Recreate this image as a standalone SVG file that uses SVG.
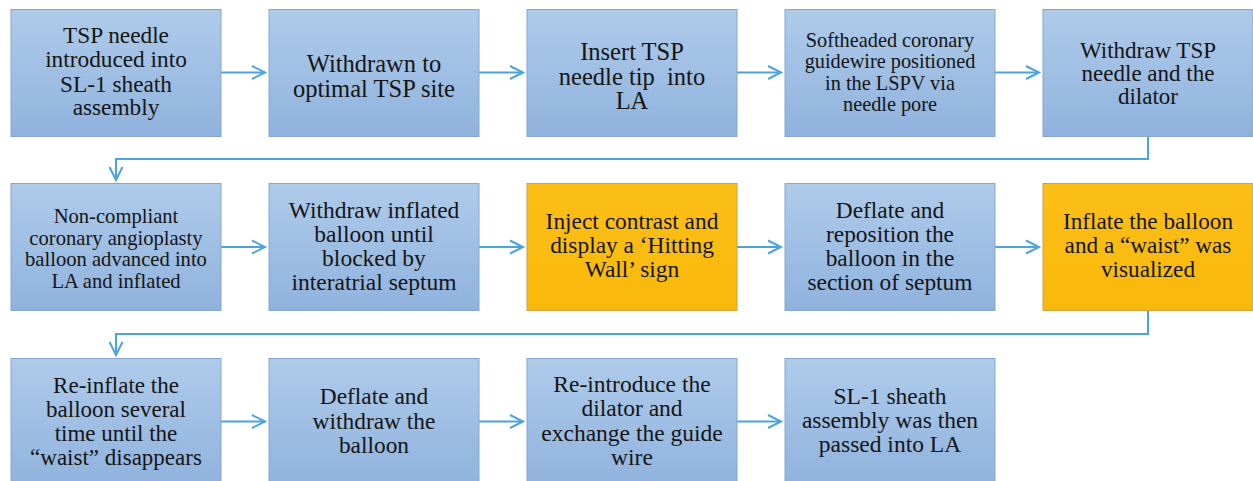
<svg xmlns="http://www.w3.org/2000/svg" width="1253" height="481" viewBox="0 0 1253 481">
<defs>
<linearGradient id="gBlue" x1="0" y1="0" x2="0" y2="1">
<stop offset="0" stop-color="#afcbea"/>
<stop offset="1" stop-color="#8fb2dd"/>
</linearGradient>
<linearGradient id="gOrange" x1="0" y1="0" x2="0" y2="1">
<stop offset="0" stop-color="#fcbf18"/>
<stop offset="1" stop-color="#f9b90a"/>
</linearGradient>
<marker id="arr" markerUnits="userSpaceOnUse" markerWidth="16" markerHeight="16" refX="13" refY="7" orient="auto" overflow="visible">
<path d="M0,0.5 L13,7 L0,13.5" fill="none" stroke="#4ea3dc" stroke-width="2"/>
</marker>
</defs>
<style>
.blue{fill:url(#gBlue);stroke:#86a6cf;stroke-width:1}
.orange{fill:url(#gOrange);stroke:#c9a24a;stroke-width:1}
text{font-family:'Liberation Serif','DejaVu Serif','Times New Roman',serif;fill:#151515;text-anchor:middle}
.conn{fill:none;stroke:#4ea3dc;stroke-width:2;marker-end:url(#arr)}
</style>
<rect width="1253" height="481" fill="#ffffff"/>
<g id="connectors">
<path class="conn" d="M221,72.5 H265"/>
<path class="conn" d="M479,72.5 H523"/>
<path class="conn" d="M737,72.5 H781"/>
<path class="conn" d="M995,72.5 H1039"/>
<path class="conn" d="M1148,136 V159 H116 V180"/>
<path class="conn" d="M221,247 H265"/>
<path class="conn" d="M479,247 H523"/>
<path class="conn" d="M737,247 H781"/>
<path class="conn" d="M995,247 H1039"/>
<path class="conn" d="M1148,310 V334 H116 V355"/>
<path class="conn" d="M221,421.5 H265"/>
<path class="conn" d="M479,421.5 H523"/>
<path class="conn" d="M737,421.5 H781"/>
</g>
<g id="n1"><rect class="blue" x="11" y="9.5" width="210" height="127"/>
<text font-family="Liberation Serif, serif" font-size="23.3"><tspan x="116" y="43">TSP needle</tspan><tspan x="116" y="67">introduced into</tspan><tspan x="116" y="91.5">SL-1 sheath</tspan><tspan x="116" y="115">assembly</tspan></text></g>
<g id="n2"><rect class="blue" x="269" y="9.5" width="210" height="127"/>
<text font-size="24.5"><tspan x="374" y="72">Withdrawn to</tspan><tspan x="374" y="97">optimal TSP site</tspan></text></g>
<g id="n3"><rect class="blue" x="527" y="9.5" width="210" height="127"/>
<text font-size="24.5" xml:space="preserve"><tspan x="632" y="60">Insert TSP</tspan><tspan x="632" y="84.5">needle tip  into</tspan><tspan x="632" y="109">LA</tspan></text></g>
<g id="n4"><rect class="blue" x="785" y="9.5" width="210" height="127"/>
<text font-size="20.3"><tspan x="890" y="47">Softheaded coronary</tspan><tspan x="890" y="68">guidewire positioned</tspan><tspan x="890" y="89.5">in the LSPV via</tspan><tspan x="890" y="111">needle pore</tspan></text></g>
<g id="n5"><rect class="blue" x="1043" y="9.5" width="210" height="127"/>
<text font-size="23"><tspan x="1148" y="58">Withdraw TSP</tspan><tspan x="1148" y="81">needle and the</tspan><tspan x="1148" y="104">dilator</tspan></text></g>
<g id="n6"><rect class="blue" x="11" y="183.5" width="210" height="127"/>
<text font-size="20.6"><tspan x="116" y="222.5">Non-compliant</tspan><tspan x="116" y="244.5">coronary angioplasty</tspan><tspan x="116" y="266">balloon advanced into</tspan><tspan x="116" y="287.5">LA and inflated</tspan></text></g>
<g id="n7"><rect class="blue" x="269" y="183.5" width="210" height="127"/>
<text font-size="23.5"><tspan x="374" y="217.5">Withdraw inflated</tspan><tspan x="374" y="241.5">balloon until</tspan><tspan x="374" y="265.5">blocked by</tspan><tspan x="374" y="289.5">interatrial septum</tspan></text></g>
<g id="n8"><rect class="orange" x="527" y="183.5" width="210" height="127"/>
<text font-size="23.4"><tspan x="632" y="229">Inject contrast and</tspan><tspan x="632" y="253">display a ‘Hitting</tspan><tspan x="632" y="277">Wall’ sign</tspan></text></g>
<g id="n9"><rect class="blue" x="785" y="183.5" width="210" height="127"/>
<text font-size="23.4"><tspan x="890" y="217.5">Deflate and</tspan><tspan x="890" y="241.5">reposition the</tspan><tspan x="890" y="265.5">balloon in the</tspan><tspan x="890" y="289.5">section of septum</tspan></text></g>
<g id="n10"><rect class="orange" x="1043" y="183.5" width="210" height="127"/>
<text font-size="23.2"><tspan x="1148" y="229">Inflate the balloon</tspan><tspan x="1148" y="253">and a “waist” was</tspan><tspan x="1148" y="277">visualized</tspan></text></g>
<g id="n11"><rect class="blue" x="11" y="358.5" width="210" height="127"/>
<text font-size="23"><tspan x="116" y="392.5">Re-inflate the</tspan><tspan x="116" y="416.5">balloon several</tspan><tspan x="116" y="440.5">time until the</tspan><tspan x="116" y="464.5">“waist” disappears</tspan></text></g>
<g id="n12"><rect class="blue" x="269" y="358.5" width="210" height="127"/>
<text font-size="23.4"><tspan x="374" y="404">Deflate and</tspan><tspan x="374" y="428.5">withdraw the</tspan><tspan x="374" y="453">balloon</tspan></text></g>
<g id="n13"><rect class="blue" x="527" y="358.5" width="210" height="127"/>
<text font-size="23.5"><tspan x="632" y="391.5">Re-introduce the</tspan><tspan x="632" y="416">dilator and</tspan><tspan x="632" y="440.5">exchange the guide</tspan><tspan x="632" y="465">wire</tspan></text></g>
<g id="n14"><rect class="blue" x="785" y="358.5" width="210" height="127"/>
<text font-size="23.5"><tspan x="890" y="404">SL-1 sheath</tspan><tspan x="890" y="428">assembly was then</tspan><tspan x="890" y="452">passed into LA</tspan></text></g>
</svg>
